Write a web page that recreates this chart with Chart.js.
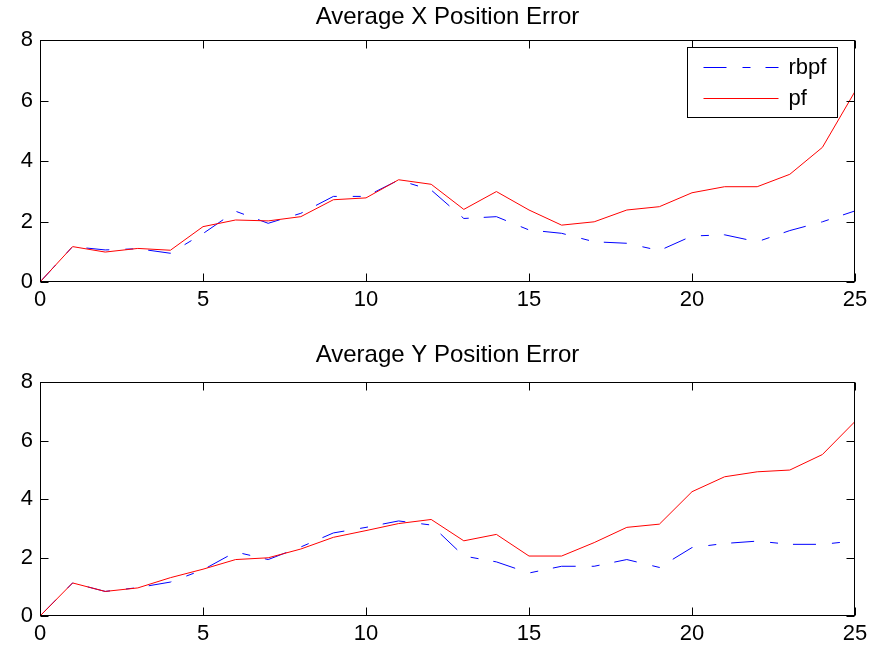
<!DOCTYPE html>
<html>
<head>
<meta charset="utf-8">
<script src="https://cdn.jsdelivr.net/npm/chart.js@4"></script>
<style>
  body { margin: 0; background: #fff; }
  canvas { position: absolute; left: 0; }
</style>
</head>
<body>
<canvas id="chartX" width="874" height="324" style="top:0"></canvas>
<canvas id="chartY" width="874" height="324" style="top:324px"></canvas>
<script>
    // time steps (x axis)
    const steps = [0, 1, 2, 3, 4, 5, 6, 7, 8, 9, 10, 11, 12, 13, 14, 15, 16, 17, 18, 19, 20, 21, 22, 23, 24, 25];

    // Average X position error
    const xRbpf = [0, 1.17, 1.06, 1.10, 0.95, 1.60, 2.34, 1.94, 2.27, 2.83, 2.83, 3.37, 3.04, 2.10, 2.16, 1.72, 1.61, 1.33, 1.28, 1.04, 1.52, 1.56, 1.33, 1.70, 1.99, 2.35];
    const xPf   = [0, 1.17, 0.99, 1.11, 1.05, 1.83, 2.05, 2.02, 2.16, 2.72, 2.78, 3.38, 3.23, 2.40, 2.99, 2.38, 1.88, 1.99, 2.38, 2.49, 2.95, 3.15, 3.15, 3.56, 4.45, 6.30];

    // Average Y position error
    const yRbpf = [0, 1.13, 0.84, 0.97, 1.16, 1.58, 2.19, 1.93, 2.36, 2.84, 3.03, 3.25, 3.11, 2.05, 1.85, 1.47, 1.70, 1.70, 1.93, 1.66, 2.34, 2.48, 2.56, 2.45, 2.45, 2.57];
    const yPf   = [0, 1.13, 0.84, 0.96, 1.31, 1.60, 1.93, 1.99, 2.29, 2.69, 2.92, 3.16, 3.30, 2.57, 2.79, 2.05, 2.05, 2.51, 3.03, 3.14, 4.25, 4.76, 4.93, 4.99, 5.52, 6.65];

    const seriesNames = ['rbpf', 'pf'];
    const xTickStep = 5;
    const yTickStep = 2;

    const FONT = 'Liberation Sans, Arial, Helvetica, sans-serif';
    const DASH = [23, 16, 8, 15];
    Chart.defaults.font.family = FONT;
    Chart.defaults.font.size = 22;
    Chart.defaults.color = '#000';

    /** Caja estilo matlab con ticks hacia dentro */
    const frameTicks = {
        id: 'frameTicks',
        afterDatasetsDraw(chart) {
            const { ctx, chartArea: a, scales: { x, y } } = chart;
            const L = Math.round(a.left) + 0.5, R = Math.round(a.right) - 0.5;
            const T = Math.round(a.top) + 0.5, B = Math.round(a.bottom) - 0.5;
            ctx.save();
            ctx.strokeStyle = '#000';
            ctx.lineWidth = 1;
            ctx.beginPath();
            x.ticks.forEach(t => {
                const px = Math.round(x.getPixelForValue(t.value)) + 0.5;
                ctx.moveTo(px, B); ctx.lineTo(px, B - 8);
                ctx.moveTo(px, T); ctx.lineTo(px, T + 8);
            });
            y.ticks.forEach(t => {
                const py = Math.round(y.getPixelForValue(t.value)) + 0.5;
                ctx.moveTo(L, py); ctx.lineTo(L + 8, py);
                ctx.moveTo(R, py); ctx.lineTo(R - 8, py);
            });
            ctx.stroke();
            ctx.strokeRect(L, T, R - L, B - T);
            ctx.restore();
        }
    };

    /** Leyenda dentro del area, esquina superior derecha */
    const boxLegend = {
        id: 'boxLegend',
        afterDraw(chart, args, opts) {
            if (!opts.show) return;
            const { ctx, chartArea: a } = chart;
            const w = 150, h = 70;
            const left = Math.round(a.right - 18 - w) + 0.5;
            const top = Math.round(a.top + 7) + 0.5;
            ctx.save();
            ctx.fillStyle = '#fff';
            ctx.fillRect(left, top, w, h);
            ctx.strokeStyle = '#000';
            ctx.lineWidth = 1;
            ctx.strokeRect(left, top, w, h);
            ctx.font = '22px ' + FONT;
            ctx.textBaseline = 'middle';
            chart.data.datasets.forEach((ds, i) => {
                const cy = Math.round(top + 19 + i * 31) + 0.5;
                ctx.strokeStyle = ds.borderColor;
                ctx.setLineDash(ds.borderDash || []);
                ctx.beginPath();
                ctx.moveTo(left + 16, cy);
                ctx.lineTo(left + 91, cy);
                ctx.stroke();
                ctx.setLineDash([]);
                ctx.fillStyle = '#000';
                ctx.fillText(ds.label, left + 101, cy);
            });
            ctx.restore();
        }
    };

    function generarChart(id, titulo, rbpf, pf, titlePad, xHeight, legend) {
        new Chart(document.getElementById(id), {
            type: 'line',
            data: {
                datasets: [{
                    label: seriesNames[0],
                    data: steps.map((s, i) => ({ x: s, y: rbpf[i] })),
                    borderColor: '#0000ff',
                    borderWidth: 1,
                    borderDash: DASH,
                    pointRadius: 0,
                    tension: 0,
                    order: 1
                }, {
                    label: seriesNames[1],
                    data: steps.map((s, i) => ({ x: s, y: pf[i] })),
                    borderColor: '#ff0000',
                    borderWidth: 1,
                    pointRadius: 0,
                    tension: 0,
                    order: 0
                }]
            },
            options: {
                responsive: false,
                animation: false,
                devicePixelRatio: 1,
                layout: { padding: { left: 0, right: 19, top: 0, bottom: 0 } },
                plugins: {
                    legend: { display: false },
                    tooltip: { enabled: false },
                    title: {
                        display: true,
                        fullSize: false,
                        text: titulo,
                        font: { size: 24, weight: 'normal' },
                        color: '#000',
                        padding: titlePad
                    },
                    boxLegend: { show: legend }
                },
                scales: {
                    x: {
                        type: 'linear',
                        min: steps[0],
                        max: steps[steps.length - 1],
                        afterFit: s => { s.height = xHeight; },
                        ticks: { stepSize: xTickStep, padding: 5, maxRotation: 0 },
                        grid: { display: false, drawTicks: false },
                        border: { display: false }
                    },
                    y: {
                        min: 0,
                        max: 8,
                        afterFit: s => { s.width = 40; },
                        ticks: { stepSize: yTickStep, padding: 7 },
                        grid: { display: false, drawTicks: false },
                        border: { display: false }
                    }
                }
            },
            plugins: [frameTicks, boxLegend]
        });
    }

    generarChart('chartX', 'Average X Position Error', xRbpf, xPf, { top: 2.6, bottom: 8.6 }, 42, true);
    generarChart('chartY', 'Average Y Position Error', yRbpf, yPf, { top: 16.6, bottom: 12.6 }, 32, false);
</script>
</body>
</html>
